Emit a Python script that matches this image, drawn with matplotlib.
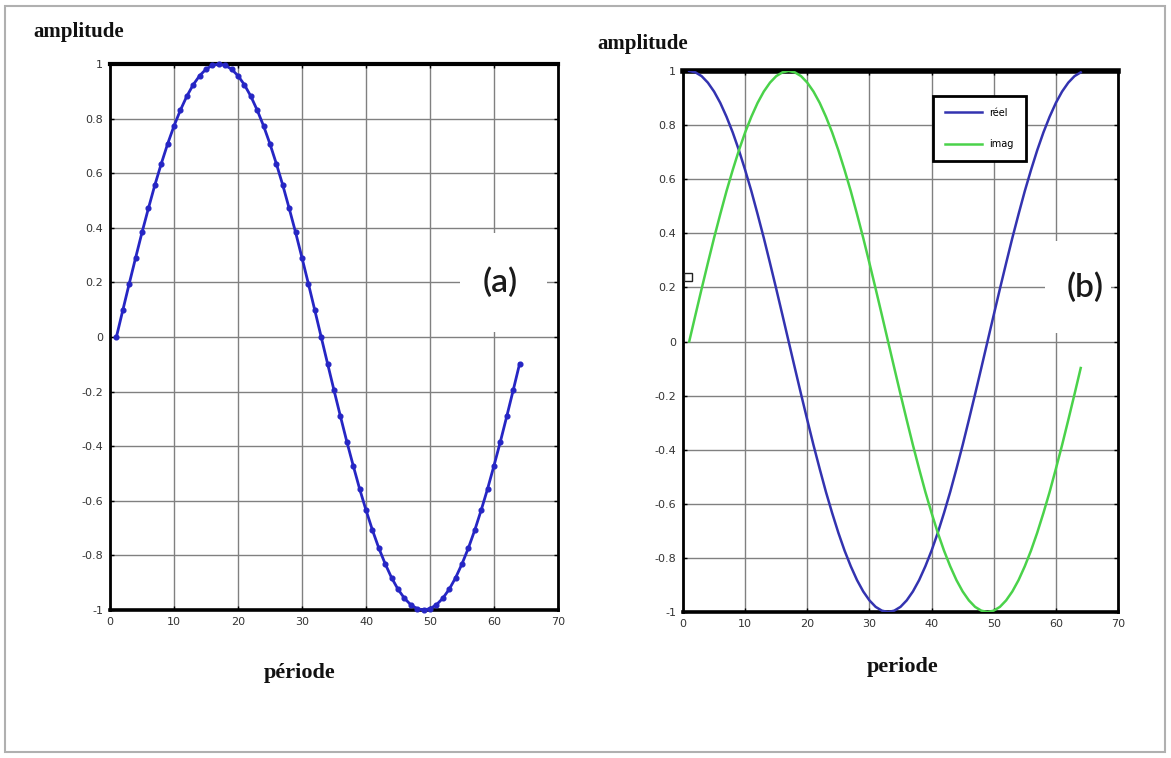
import matplotlib
matplotlib.use("Agg")
import matplotlib.pyplot as plt
from matplotlib.patches import Rectangle

# sample index (1..64) and the two sampled waveforms
samples = list(range(1, 65))
signal_a = [0.000, 0.098, 0.195, 0.290, 0.383, 0.471, 0.556, 0.634, 0.707, 0.773, 0.831, 0.882, 0.924, 0.957, 0.981, 0.995,
            1.000, 0.995, 0.981, 0.957, 0.924, 0.882, 0.831, 0.773, 0.707, 0.634, 0.556, 0.471, 0.383, 0.290, 0.195, 0.098,
            0.000, -0.098, -0.195, -0.290, -0.383, -0.471, -0.556, -0.634, -0.707, -0.773, -0.831, -0.882, -0.924, -0.957, -0.981, -0.995,
            -1.000, -0.995, -0.981, -0.957, -0.924, -0.882, -0.831, -0.773, -0.707, -0.634, -0.556, -0.471, -0.383, -0.290, -0.195, -0.098]
reel = [1.000, 0.995, 0.981, 0.957, 0.924, 0.882, 0.831, 0.773, 0.707, 0.634, 0.556, 0.471, 0.383, 0.290, 0.195, 0.098,
        0.000, -0.098, -0.195, -0.290, -0.383, -0.471, -0.556, -0.634, -0.707, -0.773, -0.831, -0.882, -0.924, -0.957, -0.981, -0.995,
        -1.000, -0.995, -0.981, -0.957, -0.924, -0.882, -0.831, -0.773, -0.707, -0.634, -0.556, -0.471, -0.383, -0.290, -0.195, -0.098,
        0.000, 0.098, 0.195, 0.290, 0.383, 0.471, 0.556, 0.634, 0.707, 0.773, 0.831, 0.882, 0.924, 0.957, 0.981, 0.995]
imag = [0.000, 0.098, 0.195, 0.290, 0.383, 0.471, 0.556, 0.634, 0.707, 0.773, 0.831, 0.882, 0.924, 0.957, 0.981, 0.995,
        1.000, 0.995, 0.981, 0.957, 0.924, 0.882, 0.831, 0.773, 0.707, 0.634, 0.556, 0.471, 0.383, 0.290, 0.195, 0.098,
        0.000, -0.098, -0.195, -0.290, -0.383, -0.471, -0.556, -0.634, -0.707, -0.773, -0.831, -0.882, -0.924, -0.957, -0.981, -0.995,
        -1.000, -0.995, -0.981, -0.957, -0.924, -0.882, -0.831, -0.773, -0.707, -0.634, -0.556, -0.471, -0.383, -0.290, -0.195, -0.098]

x_ticks = [0, 10, 20, 30, 40, 50, 60, 70]
y_ticks = [-1, -0.8, -0.6, -0.4, -0.2, 0, 0.2, 0.4, 0.6, 0.8, 1]
y_ticklabels = ["-1", "-0.8", "-0.6", "-0.4", "-0.2", "0", "0.2", "0.4", "0.6", "0.8", "1"]

W, H = 1171, 758
fig = plt.figure(figsize=(W / 100, H / 100), dpi=100)
fig.patch.set_facecolor("white")

# light page frame
fig.add_artist(Rectangle((5 / W, 1 - 752 / H), (1165 - 5) / W, (752 - 6) / H,
                         transform=fig.transFigure, fill=False,
                         edgecolor="#b0b0b0", lw=1.5))

serif = dict(family="Liberation Serif", weight="bold", color="#111111")
panel_font = dict(fontsize=24, family="Lato", weight="semibold",
                  ha="center", va="center", color="#1a1a1a", zorder=2)


def style_axes(ax):
    ax.set_xlim(0, 70)
    ax.set_ylim(-1, 1)
    ax.set_xticks(x_ticks)
    ax.set_xticklabels([str(t) for t in x_ticks])
    ax.set_yticks(y_ticks)
    ax.set_yticklabels(y_ticklabels)
    ax.set_axisbelow(True)
    ax.grid(True, color="#808080", lw=1.0)
    ax.tick_params(direction="in", length=3, width=1, labelsize=8,
                   labelcolor="#333333", pad=5, top=True, right=True)
    ax.spines["top"].set_linewidth(3.0)
    ax.spines["bottom"].set_linewidth(2.6)
    ax.spines["left"].set_linewidth(2.0)
    ax.spines["right"].set_linewidth(2.0)


# panel (a)
ax1 = fig.add_axes([110 / W, 1 - 610 / H, (558 - 110) / W, (610 - 64) / H])
style_axes(ax1)
ax1.plot(samples, signal_a, color="#2626c4", lw=2.0, marker="o", ms=3.4,
         clip_on=False, zorder=3)
ax1.add_patch(Rectangle((54.7, 0.02), 13.6, 0.36, facecolor="white",
                        edgecolor="none", zorder=1))
ax1.text(60.9, 0.20, "(a)", **panel_font)

# panel (b)
ax2 = fig.add_axes([683 / W, 1 - 612 / H, (1118 - 683) / W, (612 - 71) / H])
style_axes(ax2)
ax2.spines["top"].set_linewidth(4.0)
ax2.plot(samples, reel, color="#3333b0", lw=1.8, label="réel", zorder=3)
ax2.plot(samples, imag, color="#4ad24a", lw=1.8, label="imag", zorder=3)
ax2.add_patch(Rectangle((58.3, 0.03), 10.6, 0.34, facecolor="white",
                        edgecolor="none", zorder=1))
ax2.text(64.7, 0.20, "(b)", **panel_font)
ax2.plot([0.8], [0.238], marker="s", ms=6, mfc="white", mec="#222222",
         mew=1.0, clip_on=False, zorder=4)
leg = ax2.legend(loc="upper left", bbox_to_anchor=(0.575, 0.954), fontsize=7,
                 handlelength=3.8, labelspacing=2.2, borderpad=1.2,
                 borderaxespad=0, fancybox=False, framealpha=1,
                 edgecolor="black")
leg.get_frame().set_linewidth(2.0)

# axis captions
fig.text(33 / W, 1 - 32 / H, "amplitude", fontsize=15, ha="left", va="center", **serif)
fig.text(597 / W, 1 - 44 / H, "amplitude", fontsize=15, ha="left", va="center", **serif)
fig.text(300 / W, 1 - 673 / H, "période", fontsize=16, ha="center", va="center", **serif)
fig.text(903 / W, 1 - 667 / H, "periode", fontsize=16, ha="center", va="center", **serif)

fig.savefig("out.png", dpi=100)
